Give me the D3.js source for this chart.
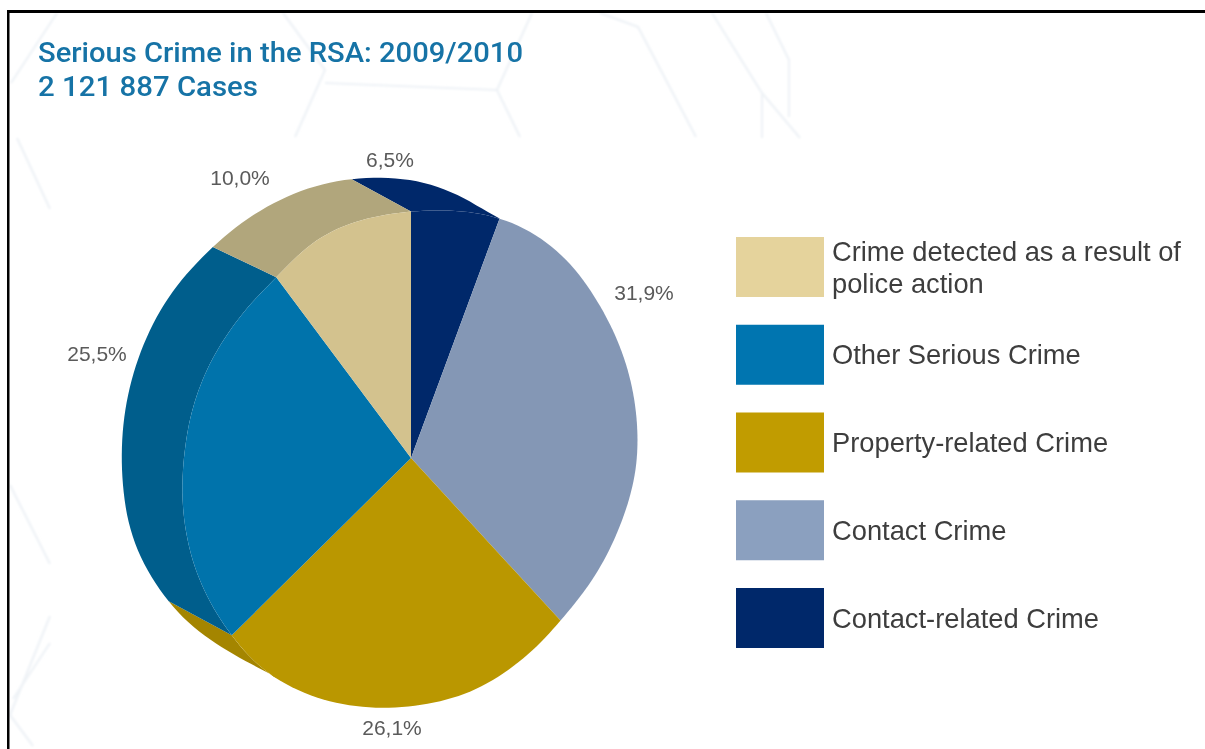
<!DOCTYPE html>
<html><head><meta charset="utf-8">
<script src="https://cdn.jsdelivr.net/npm/d3@7/dist/d3.min.js"></script>
<style>html,body{margin:0;padding:0;background:#fff;overflow:hidden}svg{display:block}</style>
</head><body><svg id="c" width="1205" height="749"></svg>
<script>
// ---- data ----
const categories = ["Contact-related Crime","Contact Crime","Property-related Crime","Other Serious Crime","Crime detected as a result of police action"];
const values = [6.5,31.9,26.1,25.5,10.0];
const valueLabels = ["6,5%","31,9%","26,1%","25,5%","10,0%"];
const legendOrder = [4,3,2,1,0];
const titleLines = ["Serious Crime in the RSA: 2009/2010","2 121 887 Cases"];
// ---- style ----
const faceColors = ["#00286A","#8497B5","#BA9700","#0073AB","#D3C28E"];
const swatchColors = ["#00286A","#8BA0BF","#C19C00","#0075B0","#E5D39C"];
const rimColors = ["#00286A","#8497B5","#A48500","#005E8C","#B1A67C"];
// ---- tilted-pie geometry: screen angle (deg) -> radius (px) ----
const cx=411, cy=458;
const faceProfile=[[-36.7,224],[-28.4,233],[-18.9,241],
 [0,246],[20.3,256],[28.5,256],[38.2,252],[51.4,242],[67.1,234],[82.2,228],[90,226],[102.8,221],[111.4,218.5],[126,218],[137.4,220],
 [152.7,231],[166.6,242],[178,247],[191.6,254],[202.3,258],[215,258.6],[225.3,252],[240,244],[257.9,233],[271.3,226],
 [288.6,222.6],[306.3,221],[323.3,224],[331.6,233],[341.1,241],[360,246],[380.3,256]];
const rimProfile=[[-12,285],[-2.2,280],[6.1,272.5],[20.3,253],[202.3,254],[212.2,256.5],[222.4,264],[230.3,274],[239.4,282],[253.6,290],
 [267,289],[286.2,290],[302.9,291],[316.8,289],[326.3,290],[334.6,289],[341,288.7],[348,285],[357.8,280],[366.1,272.5],[380.3,256]];
const faceScale=d3.scaleLinear().domain(faceProfile.map(d=>d[0])).range(faceProfile.map(d=>d[1]));
const rimScale=d3.scaleLinear().domain(rimProfile.map(d=>d[0])).range(rimProfile.map(d=>d[1]));
// soften the hand-read profile with a small moving average
const smooth=s=>a=>d3.mean(d3.range(-6,6.01,1.5),o=>s(a+o));
const faceR=smooth(faceScale), rimR=smooth(rimScale);
// position around the pie (deg) -> screen angle (perspective warp)
const warp=d3.scaleLinear().domain([0,23.4,138.24,232.2,324,360]).range([0,20.3,137.4,225.3,323.3,360]);
// rim band of each visible slice: [rim start, rim end, face angle where the band begins]
const rimBands=[[-12,20.3,0],null,[212,239.4,212],[239.4,316.8,225.3],[316.8,348,323.3]];

const svg=d3.select("#c");
const defs=svg.append("defs");
const soft=defs.append("filter").attr("id","soft").attr("x","-5%").attr("y","-20%").attr("width","110%").attr("height","140%");
soft.append("feGaussianBlur").attr("stdDeviation",0.45);
const softer=defs.append("filter").attr("id","softer");
softer.append("feGaussianBlur").attr("stdDeviation",0.9);

// watermark
const watermark=[[[283,13],[325,70],[295,137]],[[325,83],[497,90],[520,137]],[[497,90],[532,13]],[[57,13],[11,83]],
 [[600,13],[638,27],[696,137]],[[712,13],[762,93],[800,138]],[[766,13],[789,60],[789,117]],[[762,93],[762,138]],
 [[17,138],[50,209]],[[10,485],[50,564]],[[10,715],[50,616]],[[13,699],[50,643]],[[10,715],[33,746]]];
svg.append("g").attr("filter","url(#softer)").selectAll("path").data(watermark).join("path")
 .attr("d",d3.line()).attr("fill","none").attr("stroke","#eef2f6").attr("stroke-width",2.2);

// border
svg.append("rect").attr("x",7).attr("y",10).attr("width",1198).attr("height",3).attr("fill","#000");
svg.append("rect").attr("x",7).attr("y",10).attr("width",2.5).attr("height",739).attr("fill","#000");

// title
svg.append("g").selectAll("text").data(titleLines).join("text")
 .attr("x",38).attr("y",(d,i)=>62+i*34)
 .attr("font-family","Roboto").attr("font-weight",500).attr("font-size",28)
 .attr("fill","#1573A6").attr("filter","url(#soft)")
 .attr("textLength",(d,i)=>i?220:485).attr("lengthAdjust","spacingAndGlyphs")
 .text(d=>d);

// pie
const pie=d3.pie().sort(null).value(d=>d);
const toDeg=a=>a*180/Math.PI;
const arcs=pie(values).map((d,i)=>({i,start:warp(toDeg(d.startAngle)),end:warp(toDeg(d.endAngle))}));
const rad=d=>d*Math.PI/180;
function arcPts(a0,a1,rf){
  const n=Math.max(2,Math.ceil(Math.abs(a1-a0)/1.5));
  return d3.range(n+1).map(k=>{const a=a0+(a1-a0)*k/n;return [rad(a),rf(a)];});
}
const radial=d3.lineRadial();
const seg=(a0,a1,rf)=>radial(arcPts(a0,a1,rf));
const g=svg.append("g").attr("transform",`translate(${cx},${cy})`);
// rims first
g.selectAll("path.rim").data(arcs.filter(d=>rimBands[d.i])).join("path").attr("class","rim")
 .attr("fill",d=>rimColors[d.i])
 .attr("d",d=>{
   const [r0,r1,f0]=rimBands[d.i];
   return seg(r0,r1,rimR)+seg(d.end,f0,faceR).replace(/^M/,"L")+"Z";
 });
// faces
g.selectAll("path.face").data(arcs).join("path").attr("class","face")
 .attr("fill",d=>faceColors[d.i])
 .attr("d",d=>"M0,0L"+seg(d.start,d.end,faceR).slice(1)+"Z");

// value labels
const labelAnchors=[[390,160],[644,293],[392,728],[97,354],[240,178]];
svg.append("g").selectAll("text").data(valueLabels).join("text")
 .attr("x",(d,i)=>labelAnchors[i][0]).attr("y",(d,i)=>labelAnchors[i][1])
 .attr("dy","0.35em").attr("text-anchor","middle")
 .attr("font-family","Liberation Sans").attr("font-size",21)
 .attr("fill","#5a5a5a").attr("filter","url(#soft)").text(d=>d);

// legend
const legendY=d3.scalePoint().domain(legendOrder).range([237,588]);
const lg=svg.append("g").selectAll("g").data(legendOrder).join("g");
lg.append("rect").attr("x",736).attr("y",d=>legendY(d)).attr("width",88).attr("height",60)
 .attr("fill",d=>swatchColors[d]);
const legendLines=i=>i===4?["Crime detected as a result of","police action"]:[categories[i]];
lg.each(function(d){
  const lines=legendLines(d);
  d3.select(this).selectAll("text").data(lines).join("text")
   .attr("x",832).attr("y",(l,k)=>legendY(d)+30+(k-(lines.length-1)/2)*32)
   .attr("dy","0.35em").attr("font-family","Liberation Sans").attr("font-size",27.3)
   .attr("fill","#3e3e3e").attr("filter","url(#soft)").text(l=>l);
});
</script></body></html>
